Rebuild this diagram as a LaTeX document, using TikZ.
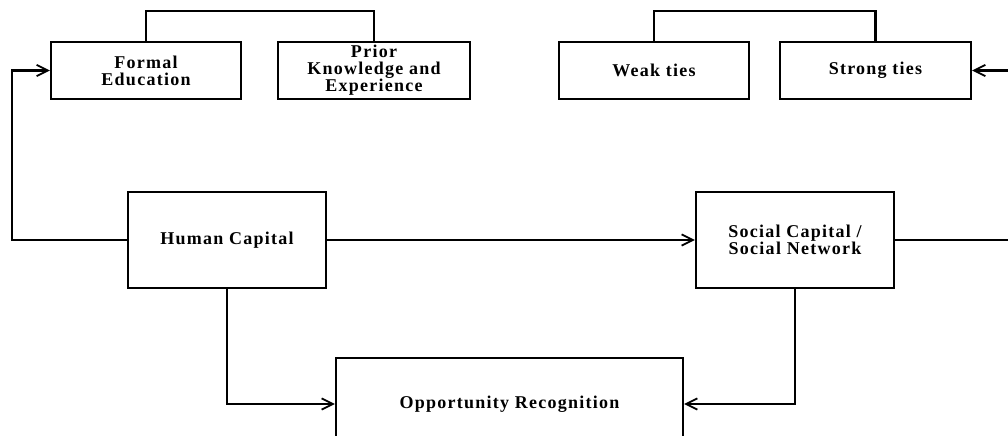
\documentclass[tikz,border=0pt]{standalone}
\usepackage{fontspec}
\setmainfont{Liberation Serif}[LetterSpace=7]
\usetikzlibrary{arrows.meta}

\begin{document}
\begin{tikzpicture}[
    x=0.025cm, y=-0.025cm,
    box/.style={rectangle, draw, line width=1.5pt, align=center, inner xsep=2pt, inner ysep=0pt,
        font=\bfseries\fontsize{12.8}{12}\selectfont},
    link/.style={line width=1.5pt},
    arr/.style={line width=1.5pt, -{Straight Barb[length=8pt,width=8pt,line width=1.3pt]}}
]
\useasboundingbox (0,0) rectangle (1008,435);

% Top boxes
\node[box, minimum width=4.75cm, minimum height=1.425cm] (fe) at (146,70.5) {Formal\\Education};
\node[box, minimum width=4.8cm, minimum height=1.425cm] (pk) at (374,70.5) {Prior\\Knowledge and\\Experience};
\node[box, minimum width=4.75cm, minimum height=1.425cm] (wt) at (654,70.5) {Weak ties};
\node[box, minimum width=4.775cm, minimum height=1.425cm] (st) at (875.5,70.5) {Strong ties};

% Middle and bottom boxes
\node[box, minimum width=4.95cm, minimum height=2.4cm] (hc) at (227,240) {Human Capital};
\node[box, minimum width=4.95cm, minimum height=2.4cm] (sc) at (795,240) {Social Capital /\\Social Network};
\node[box, minimum width=8.675cm, minimum height=2.3cm] (or) at (509.5,404) {Opportunity Recognition};

% Brackets
\draw[link] (fe.north) -- ++(0,-30) -| (pk.north);
\draw[link] (wt.north) -- ++(0,-30) -| (st.north);

% Arrows
\coordinate (lturn) at (12,240);
\coordinate (rturn) at (1015,240);
\draw[arr] (hc.west) -- (lturn) |- (fe.west);
\draw[arr] (sc.east) -- (rturn) |- (st.east);
\draw[arr] (hc) -- (sc);
\draw[arr] (hc.south) |- (or.west);
\draw[arr] (sc.south) |- (or.east);
\end{tikzpicture}
\end{document}
